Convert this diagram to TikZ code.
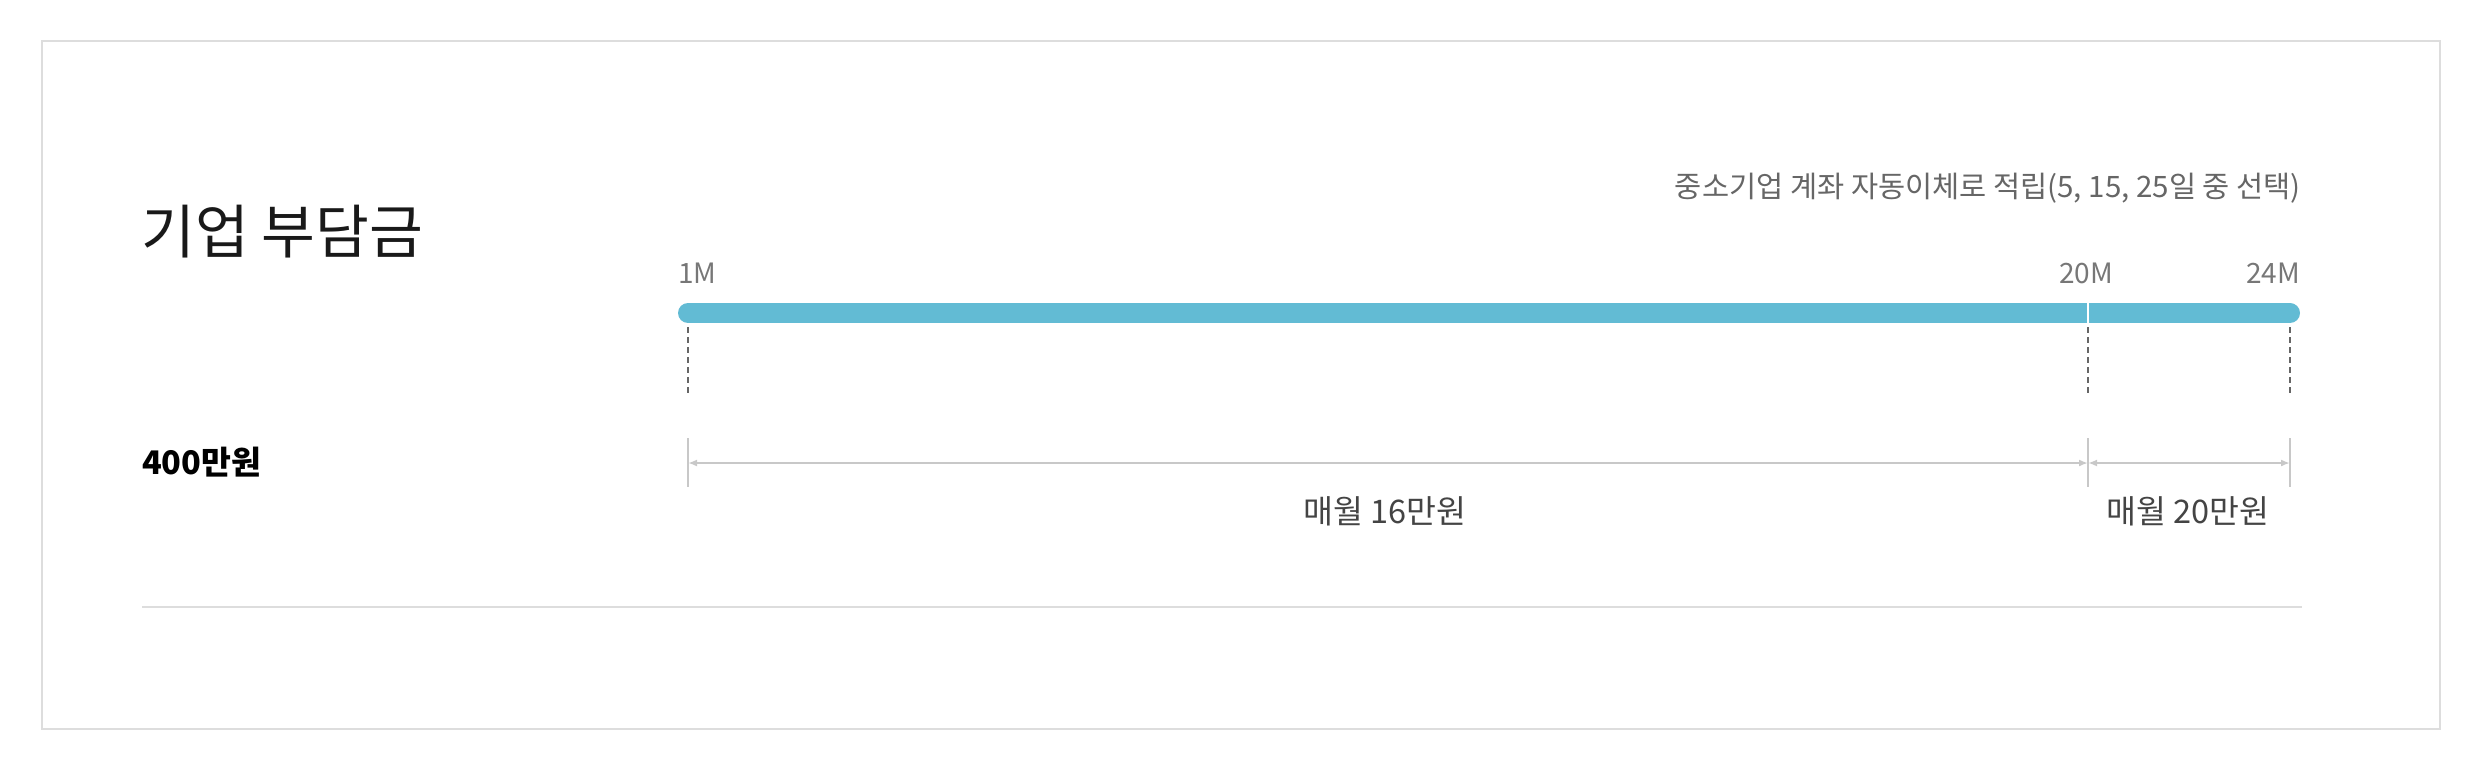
\documentclass[tikz,border=0pt]{standalone}
\usepackage{fontspec}
\setmainfont{Noto Sans CJK KR}
\usetikzlibrary{arrows.meta}
\definecolor{framegray}{HTML}{DDDDDD}
\definecolor{dimgray}{HTML}{C8C8C8}
\definecolor{dashgray}{HTML}{666666}
\definecolor{bluebar}{HTML}{62BBD4}
\definecolor{labgray}{HTML}{777777}
\definecolor{notegray}{HTML}{666666}
\definecolor{amtgray}{HTML}{444444}
\tikzset{
  frame/.style={draw=framegray, line width=2pt},
  barline/.style={draw=bluebar, line width=20pt, line cap=round},
  guide/.style={draw=dashgray, line width=2pt, dash pattern=on 6pt off 4pt},
  tick/.style={draw=dimgray, line width=2pt},
  dimline/.style={draw=dimgray, line width=2pt, {Latex[length=9pt,width=7pt]}-{Latex[length=9pt,width=7pt]}},
  mlabel/.style={inner sep=0pt, text=labgray, font=\fontsize{28}{32}\selectfont},
  amt/.style={inner sep=0pt, text=amtgray, font=\fontsize{32.5}{36}\selectfont},
}
\begin{document}
\begin{tikzpicture}[x=1pt, y=-1pt]
\useasboundingbox (0,0) rectangle (2480,764);
\draw[frame] (42,41) rectangle (2440,729);
\draw[frame] (142,607) -- (2302,607);

\node[inner sep=0pt, anchor=west, font=\fontsize{58.5}{64}\selectfont, text=black!90] (title) at (141,232) {기업 부담금};
\node[inner sep=0pt, anchor=west, font=\fontsize{32.5}{36}\selectfont\bfseries] (total) at (142,462) {400만원};
\node[inner sep=0pt, anchor=east, text=notegray, font=\fontsize{29.5}{34}\selectfont] (note) at (2301,188) {중소기업 계좌 자동이체로 적립(5, 15, 25일 중 선택)};

\coordinate (b1) at (688,313);
\coordinate (b20) at (2088,313);
\coordinate (b24) at (2290,313);

\node[mlabel, anchor=west] (l1) at (678,273.5) {1M};
\node[mlabel] (l20) at (2086,273.5) {20M};
\node[mlabel, anchor=east] (l24) at (2300,273.5) {24M};

\draw[barline] (b1) -- (b24);
\draw[draw=white, line width=2pt] ([yshift=-10pt]b20) -- ([yshift=10pt]b20);

\coordinate (d1a) at (688,327); \coordinate (d1b) at (688,396);
\coordinate (d20a) at (2088,327); \coordinate (d20b) at (2088,396);
\coordinate (d24a) at (2290,327); \coordinate (d24b) at (2290,396);
\draw[guide] (d1a) -- (d1b);
\draw[guide] (d20a) -- (d20b);
\draw[guide] (d24a) -- (d24b);

\coordinate (t1a) at (688,438); \coordinate (t1b) at (688,487);
\coordinate (t20a) at (2088,438); \coordinate (t20b) at (2088,487);
\coordinate (t24a) at (2290,438); \coordinate (t24b) at (2290,487);
\draw[tick] (t1a) -- (t1b);
\draw[tick] (t20a) -- (t20b);
\draw[tick] (t24a) -- (t24b);

\coordinate (a1) at (688,463);
\coordinate (a20) at (2088,463);
\coordinate (a24) at (2290,463);
\draw[dimline] (a1) -- (a20);
\draw[dimline] (a20) -- (a24);

\node[amt] (m16) at (1385,511) {매월 16만원};
\node[amt] (m20) at (2188,511) {매월 20만원};
\end{tikzpicture}
\end{document}
